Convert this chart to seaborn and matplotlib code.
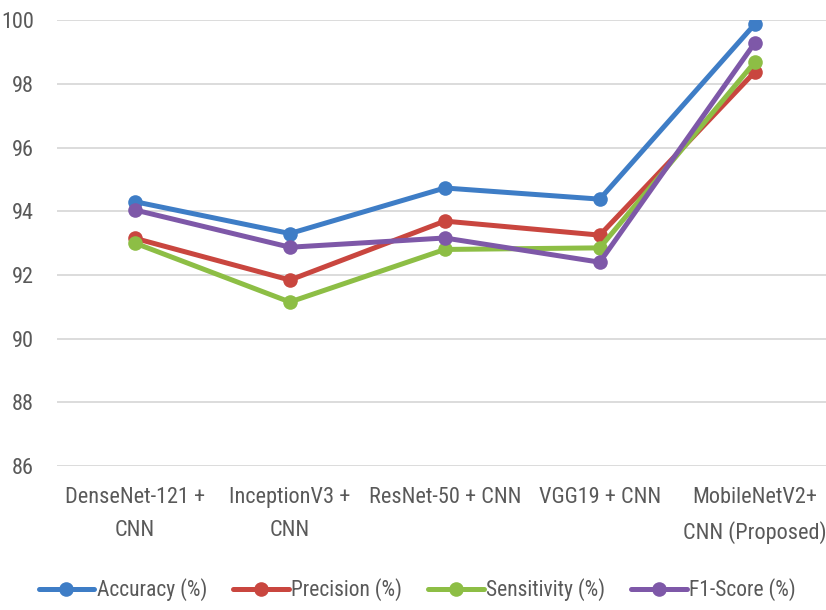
import pandas as pd
import seaborn as sns
import matplotlib.pyplot as plt
from matplotlib import font_manager

# donnees
models = ["DenseNet-121 +\nCNN", "InceptionV3 +\nCNN", "ResNet-50 + CNN",
          "VGG19 + CNN", "MobileNetV2+\nCNN (Proposed)"]
accuracy = [94.3, 93.3, 94.73, 94.38, 99.87]
precision = [93.15, 91.84, 93.69, 93.25, 98.37]
sensitivity = [93.0, 91.15, 92.8, 92.85, 98.68]
f1_score = [94.04, 92.87, 93.16, 92.4, 99.28]
metrics = ["Accuracy (%)", "Precision (%)", "Sensitivity (%)", "F1-Score (%)"]
colors = ["#3E7DC6", "#C9463F", "#8DBE45", "#7E58A8"]

df = pd.DataFrame({"Model": models * 4,
                   "Value": accuracy + precision + sensitivity + f1_score,
                   "Metric": [m for m in metrics for _ in models]})

names = {f.name for f in font_manager.fontManager.ttflist}
font = "Liberation Sans"
for cand in ["Liberation Sans Narrow", "Roboto Condensed", "Open Sans Condensed"]:
    if cand in names:
        font = cand
        break
sns.set_style("white")
plt.rcParams['font.family'] = [font, 'DejaVu Sans']
fs = 16 if "Narrow" in font or "Condensed" in font else 13.5

fig = plt.figure(figsize=(8.26, 6.1), dpi=100)
ax = fig.add_axes([0.0696, 0.236, 0.9304, 0.731])
sns.lineplot(data=df, x="Model", y="Value", hue="Metric", palette=colors,
             marker="o", markersize=10.5, markeredgewidth=0, linewidth=3.6,
             sort=False, ax=ax)

ax.set_ylim(86, 100)
ax.set_yticks(range(86, 101, 2))
ax.set_xlim(-0.5, 4.46)
ax.grid(axis="y", color="#d9d9d9", linewidth=1.3)
ax.set_axisbelow(True)
for s in ax.spines.values():
    s.set_visible(False)
ax.tick_params(length=0, labelsize=fs, colors="#595959")
ax.tick_params(axis="x", pad=15)
ax.tick_params(axis="y", pad=17)
for t in ax.get_xticklabels():
    t.set_linespacing(1.75)
ax.set_xlabel("")
ax.set_ylabel("")

handles, labels = ax.get_legend_handles_labels()
ax.legend().remove()
fig.legend(handles, labels, loc="center", bbox_to_anchor=(0.505, 0.033), ncol=4,
           frameon=False, fontsize=fs - 0.5, labelcolor="#595959", handlelength=2.6,
           handletextpad=0.1, columnspacing=1.2)

plt.savefig("out.png", dpi=100)
